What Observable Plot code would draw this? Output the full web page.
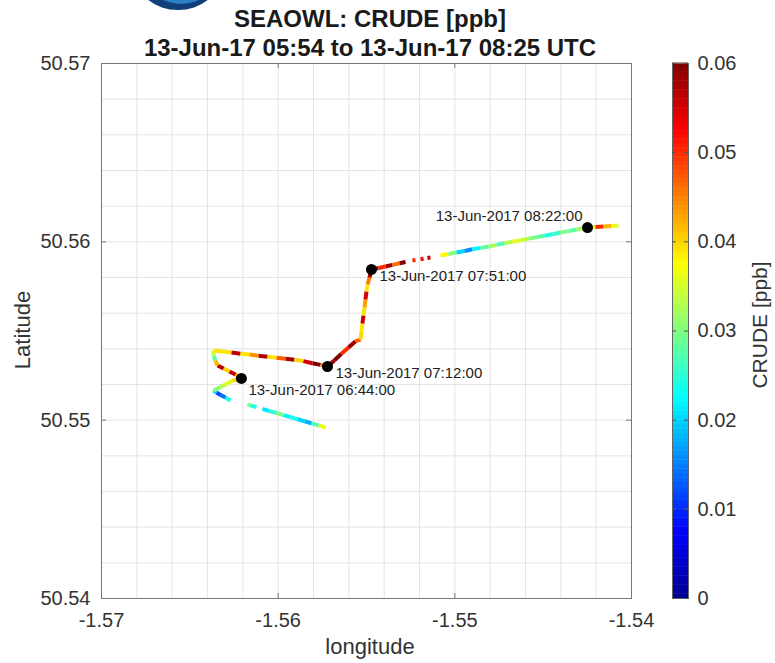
<!DOCTYPE html>
<html><head><meta charset="utf-8">
<script src="https://cdn.jsdelivr.net/npm/d3@7"></script>
<script src="https://cdn.jsdelivr.net/npm/@observablehq/plot@0.6"></script>
<style>
html,body{margin:0;padding:0;background:#fff;}
#root{position:relative;width:775px;height:663px;overflow:hidden;font-family:"Liberation Sans",Arial,sans-serif;color:#262626;background:#fff;}
.abs{position:absolute;}
.title{font-weight:bold;font-size:24px;line-height:24px;color:#1a1a1a;text-align:center;white-space:nowrap;}
.rot{transform:rotate(-90deg);text-align:center;white-space:nowrap;}
</style></head><body><div id="root"></div>
<script>
// ---- data ----
const lon = [
  -1.55732,-1.55772,-1.55811,-1.55851,-1.55891,-1.55930,-1.55970,-1.56009,-1.56049,-1.56089,
  null,
  -1.56123,-1.56157,-1.56174,
  null,
  -1.56270,-1.56298,-1.56326,-1.56349,-1.56366,-1.56332,-1.56298,-1.56259,-1.56208,
  -1.56242,-1.56276,-1.56309,-1.56343,-1.56355,-1.56366,-1.56366,
  -1.56315,-1.56264,-1.56213,-1.56162,-1.56111,-1.56060,-1.56009,-1.55958,-1.55908,-1.55857,-1.55806,-1.55760,-1.55721,
  -1.55681,-1.55642,-1.55602,-1.55562,-1.55534,
  -1.55528,-1.55523,-1.55517,-1.55511,-1.55506,-1.55500,-1.55494,-1.55483,-1.55472,
  -1.55432,-1.55392,-1.55353,-1.55313,-1.55279,
  null,
  -1.55240,-1.55223,
  null,
  -1.55194,-1.55177,
  null,
  -1.55155,-1.55138,
  null,
  -1.55081,-1.55036,-1.54991,-1.54945,-1.54900,-1.54855,-1.54809,-1.54764,-1.54719,-1.54674,
  -1.54628,-1.54583,-1.54538,-1.54492,-1.54447,-1.54402,-1.54357,-1.54311,-1.54249,
  -1.54204,-1.54159,-1.54113,-1.54074
];
const lat = [
  50.54959,50.54971,50.54982,50.54994,50.55005,50.55017,50.55028,50.55040,50.55051,50.55063,
  null,
  50.55073,50.55083,50.55088,
  null,
  50.55110,50.55127,50.55141,50.55155,50.55166,50.55183,50.55200,50.55222,50.55234,
  50.55256,50.55273,50.55290,50.55307,50.55335,50.55363,50.55391,
  50.55385,50.55379,50.55373,50.55368,50.55361,50.55356,50.55350,50.55344,50.55339,50.55331,50.55319,50.55310,50.55301,
  50.55336,50.55372,50.55407,50.55443,50.55452,
  50.55497,50.55542,50.55587,50.55632,50.55677,50.55722,50.55761,50.55800,50.55845,
  50.55853,50.55862,50.55871,50.55880,50.55887,
  null,
  50.55895,50.55898,
  null,
  50.55902,50.55905,
  null,
  50.55909,50.55912,
  null,
  50.55923,50.55932,50.55940,50.55949,50.55958,50.55966,50.55974,50.55983,50.55992,50.56000,
  50.56009,50.56018,50.56026,50.56034,50.56043,50.56052,50.56060,50.56069,50.56080,
  50.56083,50.56086,50.56089,50.56092
];
const crude = [
  0.036,0.027,0.018,0.020,0.024,0.022,0.030,0.025,0.021,0.028,
  null,
  0.024,0.030,0.026,
  null,
  0.024,0.014,0.012,0.020,0.030,0.033,0.036,0.040,0.042,
  0.056,0.040,0.057,0.042,0.028,0.034,0.039,
  0.039,0.056,0.039,0.044,0.057,0.039,0.047,0.058,0.040,0.055,0.060,0.044,0.058,
  0.060,0.050,0.058,0.047,0.040,
  0.039,0.056,0.039,0.043,0.055,0.039,0.045,0.058,0.056,
  0.050,0.058,0.046,0.060,0.055,
  null,
  0.050,0.050,
  null,
  0.052,0.052,
  null,
  0.055,0.055,
  null,
  0.038,0.030,0.020,0.016,0.022,0.028,0.032,0.027,0.033,0.036,
  0.034,0.030,0.028,0.024,0.026,0.030,0.028,0.032,0.036,
  0.050,0.042,0.036,0.045
];
const markerLon = [-1.56208, -1.55721, -1.55472, -1.54249];
const markerLat = [50.55234, 50.55301, 50.55845, 50.56080];
const markerLabel = ["13-Jun-2017 06:44:00", "13-Jun-2017 07:12:00", "13-Jun-2017 07:51:00", "13-Jun-2017 08:22:00"];

const xTicks = [-1.57, -1.56, -1.55, -1.54];
const yTicks = [50.54, 50.55, 50.56, 50.57];
const xGrid = [-1.57,-1.568,-1.566,-1.564,-1.562,-1.56,-1.558,-1.556,-1.554,-1.552,-1.55,-1.548,-1.546,-1.544,-1.542,-1.54];
const yGrid = [50.54,50.542,50.544,50.546,50.548,50.55,50.552,50.554,50.556,50.558,50.56,50.562,50.564,50.566,50.568,50.57];
const cbTicks = [0, 0.01, 0.02, 0.03, 0.04, 0.05, 0.06];

const titleLine1 = "SEAOWL: CRUDE [ppb]";
const titleLine2 = "13-Jun-17 05:54 to 13-Jun-17 08:25 UTC";
const xLabel = "longitude", yLabel = "Latitude", cbLabel = "CRUDE [ppb]";

// ---- build ----
const track = lon.map((x, i) => ({lon: x, lat: lat[i], crude: crude[i]}));
const markers = markerLon.map((x, i) => ({lon: x, lat: markerLat[i], label: markerLabel[i]}));

const jetDomain = [0, 0.0075, 0.0225, 0.0375, 0.0525, 0.06];
const jetRange = ["#00008f", "#0000ff", "#00ffff", "#ffff00", "#ff0000", "#800000"];
const colorOpts = {type: "linear", domain: jetDomain, range: jetRange, interpolate: "rgb"};
const font = '"Liberation Sans", Arial, sans-serif';

const root = document.getElementById("root");

const main = Plot.plot({
  width: 660, height: 663,
  marginTop: 63, marginBottom: 65, marginLeft: 101, marginRight: 29,
  x: {domain: [-1.57, -1.54]},
  y: {domain: [50.54, 50.57]},
  color: colorOpts,
  style: {fontFamily: font, fontSize: "20px", color: "#333", background: "transparent"},
  marks: [
    Plot.gridX(xGrid, {stroke: "#e4e4e4", strokeOpacity: 1}),
    Plot.gridY(yGrid, {stroke: "#e4e4e4", strokeOpacity: 1}),
    Plot.frame({stroke: "#777"}),
    Plot.tickX(xTicks, {x: d => d, stroke: "#777", insetTop: 530}),
    Plot.tickX(xTicks, {x: d => d, stroke: "#777", insetBottom: 530}),
    Plot.tickY(yTicks, {y: d => d, stroke: "#777", insetRight: 525}),
    Plot.tickY(yTicks, {y: d => d, stroke: "#777", insetLeft: 525}),
    Plot.axisX(xTicks, {tickSize: 0, tickPadding: 14, tickFormat: d => d.toFixed(2), label: null, fontSize: 20, fill: "#333"}),
    Plot.axisY(yTicks, {tickSize: 0, tickPadding: 11, tickFormat: d => d.toFixed(2), label: null, fontSize: 20, fill: "#333"}),
    Plot.line(track, {x: "lon", y: "lat", z: null, stroke: "crude", strokeWidth: 4, strokeLinecap: "butt", strokeLinejoin: "round"}),
    Plot.dot(markers, {x: "lon", y: "lat", r: 5.5, fill: "black"}),
    Plot.text(markers, {filter: (d, i) => i === 0, x: "lon", y: "lat", text: "label", textAnchor: "start", dx: 7, dy: 12, fontSize: 15, fill: "#222"}),
    Plot.text(markers, {filter: (d, i) => i === 1 || i === 2, x: "lon", y: "lat", text: "label", textAnchor: "start", dx: 8, dy: 6.5, fontSize: 15, fill: "#222"}),
    Plot.text(markers, {filter: (d, i) => i === 3, x: "lon", y: "lat", text: "label", textAnchor: "end", dx: -5, dy: -11, fontSize: 15, fill: "#222"})
  ]
});
main.style.position = "absolute"; main.style.left = "0px"; main.style.top = "0px";
root.appendChild(main);

const cbStep = 0.0005;
const cbCells = d3.range(0, 0.06, cbStep);
const cbar = Plot.plot({
  width: 103, height: 663,
  marginTop: 63, marginBottom: 65, marginLeft: 0, marginRight: 87,
  x: {axis: null},
  y: {domain: [0, 0.06]},
  color: colorOpts,
  style: {fontFamily: font, fontSize: "20px", color: "#333", background: "transparent"},
  marks: [
    Plot.rect(cbCells, {y1: d => d, y2: d => d + cbStep + 0.00005, fill: d => d + cbStep / 2}),
    Plot.frame({stroke: "#666"}),
    Plot.tickY(cbTicks, {y: d => d, stroke: "#555", insetLeft: 12}),
    Plot.tickY(cbTicks, {y: d => d, stroke: "#555", insetRight: 12}),
    Plot.axisY(cbTicks, {anchor: "right", tickSize: 0, tickPadding: 9, tickFormat: d => d === 0 ? "0" : d.toFixed(2), label: null, fontSize: 20, fill: "#333"})
  ]
});
cbar.style.position = "absolute"; cbar.style.left = "672px"; cbar.style.top = "0px";
root.appendChild(cbar);

// logo fragment at the top (cropped in the reference)
const logo = document.createElementNS("http://www.w3.org/2000/svg", "svg");
logo.setAttribute("width", "120"); logo.setAttribute("height", "14");
logo.style.position = "absolute"; logo.style.left = "120px"; logo.style.top = "0px";
logo.innerHTML = '<ellipse cx="58" cy="-24" rx="42" ry="34" fill="#123f78"/><ellipse cx="61" cy="-28" rx="37" ry="32" fill="#2a7fc4"/><ellipse cx="66" cy="-33" rx="34" ry="33" fill="#ffffff"/>';
root.appendChild(logo);

// titles
const t1 = document.createElement("div");
t1.className = "abs title";
t1.style.cssText = "left:0;top:7px;width:740px;";
t1.textContent = titleLine1;
root.appendChild(t1);

const t2 = document.createElement("div");
t2.className = "abs title";
t2.style.cssText = "left:0;top:36px;width:740px;";
t2.textContent = titleLine2;
root.appendChild(t2);

// axis titles
const xl = document.createElement("div");
xl.className = "abs";
xl.style.cssText = "left:270px;top:636px;width:200px;text-align:center;font-size:22px;line-height:22px;color:#333;";
xl.textContent = xLabel;
root.appendChild(xl);

const yl = document.createElement("div");
yl.className = "abs rot";
yl.style.cssText += "left:-77px;top:319px;width:200px;font-size:22px;line-height:22px;color:#333;";
yl.textContent = yLabel;
root.appendChild(yl);

const cl = document.createElement("div");
cl.className = "abs rot";
cl.style.cssText += "left:660px;top:314px;width:200px;font-size:21px;line-height:22px;color:#333;";
cl.textContent = cbLabel;
root.appendChild(cl);
</script>
</body></html>
